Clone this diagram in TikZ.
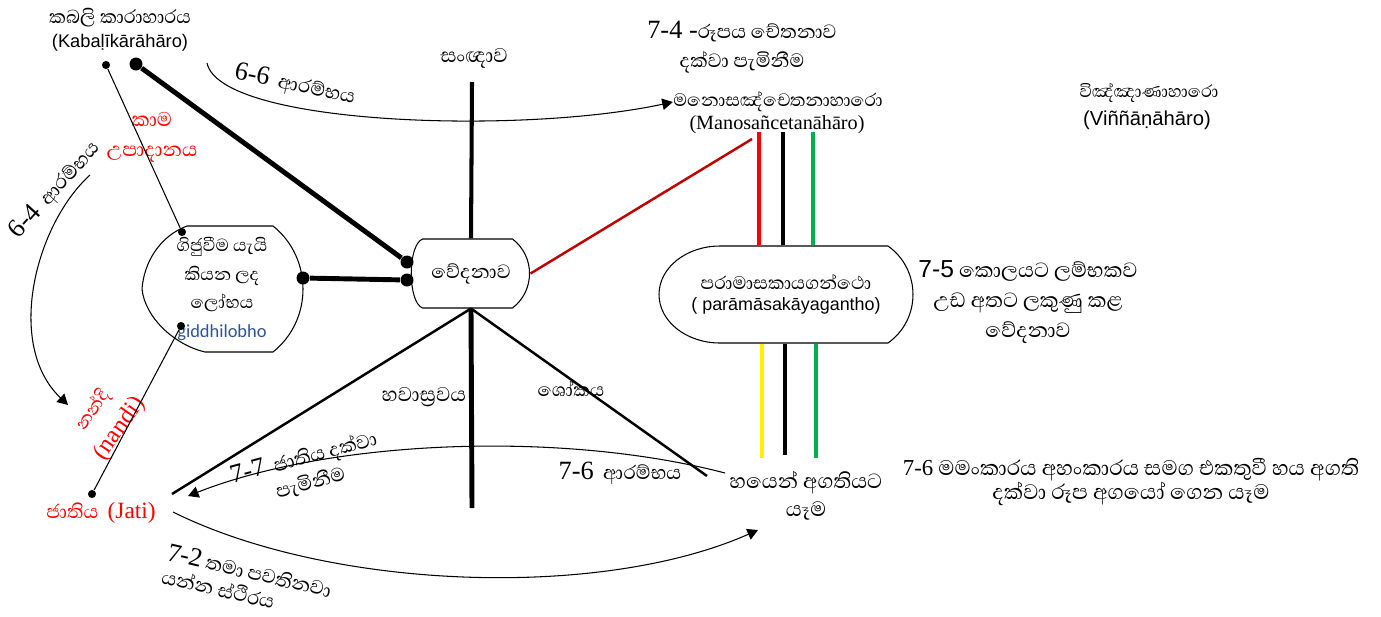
\documentclass[tikz,border=0pt]{standalone}
\usepackage{fontspec}
\setmainfont{Liberation Serif}
\setsansfont{Liberation Sans}
\newfontfamily\sinfont[Script=Sinhala]{Abhaya Libre}
\newfontfamily\calfont{Carlito}
\usetikzlibrary{arrows.meta,calc}
\newcommand{\fs}[2]{\fontsize{#1}{#2}\selectfont}
\definecolor{darkred}{HTML}{C00000}
\definecolor{offgreen}{HTML}{00B050}
\definecolor{offblue}{HTML}{2F5496}

\begin{document}
\begin{tikzpicture}[x=0.02cm,y=-0.02cm,line width=0.6pt,>={Triangle[length=6pt,width=6.5pt]}]
  \tikzstyle{lbl}=[align=center,inner sep=0pt]
  \tikzstyle{bigdot}=[circle,fill=black,minimum size=7.4pt,inner sep=0pt]
  \tikzstyle{smalldot}=[circle,fill=black,minimum size=4.6pt,inner sep=0pt]
  \tikzstyle{heavy}=[line width=2.8pt]
  \tikzstyle{bar}=[line width=2.3pt]
  \useasboundingbox (0,0) rectangle (1381,616);

  \node[lbl,font=\sinfont\fs{13.6}{14}] (kab) at (120,18) {කබලි කාරාහාරය};
  \node[lbl,font=\sffamily\fs{10.4}{12}] (kabtr) at (120,43) {(Kabaḷīkārāhāro)};
  \node[smalldot] (kd1) at (106,65) {};
  \node[bigdot] (kd2) at (136,64) {};
  \node[lbl,red,font=\sinfont\fs{14.4}{17}] (kama) at (152,137) {කාම\\උපාදානය};

  \node[lbl,font=\sinfont\fs{14.5}{14}] (sangna) at (474,58) {සංඥාව};
  \node[lbl,font=\sinfont\fs{14}{16.5}] (t74) at (742,47) {{\rmfamily\fs{15}{16.5}7-4 -}රූපය චේතනාව\\දක්වා පැමිනීම};
  \node[lbl,font=\sinfont\fs{13.1}{13}] (mano) at (778,102) {මනොසඤ්චෙතනාහාරො};
  \node[lbl,font=\rmfamily\fs{11.5}{13}] (manotr) at (777,125) {(Manosañcetanāhāro)};
  \node[lbl,font=\sinfont\fs{12.5}{13}] (vinn) at (1149,93) {විඤ්ඤාණාහාරො};
  \node[lbl,font=\sffamily\fs{11.5}{13}] (vinntr) at (1147,120) {(Viññāṇāhāro)};

  \node[lbl,font=\sinfont\fs{14}{16},rotate=-12] (t66) at (295,85) {{\rmfamily\fs{15}{16}6-6}~~ආරම්භය};
  \node[lbl,font=\sinfont\fs{14}{16},rotate=48] (t64) at (55,190) {{\rmfamily\fs{15}{16}6-4}~~ආරම්භය};

  % lobha
  \node[lbl,font=\sinfont\fs{12.7}{16.2}] (lob) at (222,289) {ගිජුවීම යැයි\\කියන ලද\\ලෝභය\\{\calfont\fs{10.5}{16.2}\color{offblue}giddhilobho}};
  \draw ($(lob.center)+(-35,-63)$) -- ($(lob.center)+(51,-63)$) .. controls ($(lob.center)+(91,-31)$) and ($(lob.center)+(91,31)$) .. ($(lob.center)+(51,63)$) -- ($(lob.center)+(-17,63)$) .. controls ($(lob.center)+(-47,56)$) and ($(lob.center)+(-77,29)$) .. ($(lob.center)+(-80,0)$) .. controls ($(lob.center)+(-78,-27)$) and ($(lob.center)+(-62,-53)$) .. cycle;
  \node[smalldot] (ld1) at (182,232) {};
  \node[smalldot] (ld2) at (181,326) {};
  \node[bigdot] (ld3) at (303,278) {};

  % vedana
  \node[lbl,font=\sinfont\fs{14}{14},minimum width=2.36cm,minimum height=1.38cm] (ved) at (471,273.5) {වේදනාව};
  \draw ($(ved.center)+(-48.5,-34.5)$) -- ($(ved.center)+(41.5,-34.5)$) .. controls ($(ved.center)+(64.2,-17.1)$) and ($(ved.center)+(64.2,17.1)$) .. ($(ved.center)+(41.5,34.5)$) -- ($(ved.center)+(-48.5,34.5)$) .. controls ($(ved.center)+(-63.5,28.5)$) and ($(ved.center)+(-63.5,-28.5)$) .. cycle;
  \node[bigdot] (vd1) at (407,262) {};
  \node[bigdot] (vd2) at (407,280) {};

  % paramasa
  \node[lbl,font=\sinfont\fs{13.2}{12},minimum width=5.08cm,minimum height=1.94cm] (param) at (786,294.5) {පරාමාසකායගන්ථො\\{\sffamily\fs{10.2}{12}( parāmāsakāyagantho)}};
  \draw ($(param.center)+(-66,-48.5)$) -- ($(param.center)+(102,-48.5)$) .. controls ($(param.center)+(135.3,-24.8)$) and ($(param.center)+(135.3,24.8)$) .. ($(param.center)+(102,48.5)$) -- ($(param.center)+(-66,48.5)$) .. controls ($(param.center)+(-99.7,48.5)$) and ($(param.center)+(-127,26.8)$) .. ($(param.center)+(-127,0)$) .. controls ($(param.center)+(-127,-26.8)$) and ($(param.center)+(-99.7,-48.5)$) .. cycle;

  \node[lbl,font=\sinfont\fs{15}{17}] (t75) at (1028,302) {{\sffamily\fs{14}{17}7-5} කොලයට ලම්භකව\\උඩ අතට ලකුණු කළ\\වේදනාව};

  \node[lbl,font=\sinfont\fs{14.5}{13}] (bhava) at (424,397) {හවාස්‍රවය};
  \node[lbl,font=\sinfont\fs{13.4}{13}] (shoka) at (571,389) {ශෝකය};
  \node[lbl,font=\sinfont\fs{14}{16}] (t76a) at (620,473) {{\rmfamily\fs{15}{16}7-6}~~ආරම්භය};
  \node[lbl,font=\sinfont\fs{15}{16}] (bhaya) at (806,496) {හයෙන් අගතියට\\යෑම};
  \node[lbl,font=\sinfont\fs{15.3}{12.3}] (t76b) at (1131,482) {{\rmfamily\fs{13}{12.3}7-6} මමංකාරය අහංකාරය සමග එකතුවී හය අගති\\දක්වා රූප අගයෝ ගෙන යෑම};
  \node[lbl,font=\sinfont\fs{14}{14.8},rotate=15] (t77) at (307,470) {{\rmfamily\fs{15}{14.8}7-7}~~ජාතිය දක්වා\\පැමිනීම};
  \node[lbl,font=\sinfont\fs{14}{13.6},rotate=-13,align=left] (t72) at (247,582) {{\rmfamily\fs{15}{13.6}7-2} තමා පවතිනවා\\යන්න ස්ථිරය};

  \node[lbl,red,font=\sinfont\fs{13.9}{14}] (jati) at (101,513) {ජාතිය~~{\rmfamily\fs{13.3}{14}(Jati)}};
  \node[smalldot] (jd) at (92,494) {};
  \node[lbl,red,font=\sinfont\fs{13}{19},rotate=55] (nandi) at (107,420) {නන්දි\\{\rmfamily\fs{14}{19}(nandi)}};

  \draw (kd1) -- (ld1);
  \draw[heavy] (kd2) -- (vd1);
  \draw[heavy] (ld3) -- (vd2);
  \draw (ld2) -- (jd);

  \coordinate (stop) at (472,82);
  \draw[bar] (stop) -- (ved.north);
  \coordinate (sbot) at (472,508);
  \draw[heavy] (ved.south) -- (sbot);
  \coordinate (jtop) at (172,494);
  \draw[line width=1.4pt] (ved.south) -- (jtop);
  \coordinate (bleft) at (707,476);
  \draw[line width=1.4pt] (ved.south) -- (bleft);
  \coordinate (mred) at (752,139);
  \draw[darkred,line width=1.4pt] (ved.east) -- (mred);

  \coordinate (ar) at (759,132);
  \coordinate (ak) at (783,132);
  \coordinate (ag) at (813,132);
  \draw[bar,red] (ar) -- (ar |- param.north);
  \draw[bar] (ak) -- (ak |- param.north);
  \draw[bar,offgreen] (ag) -- (ag |- param.north);
  \coordinate (by) at (762,458);
  \coordinate (bk) at (785,455);
  \coordinate (bg) at (816,458);
  \draw[bar,yellow] (by |- param.south) -- (by);
  \draw[bar] (bk |- param.south) -- (bk);
  \draw[bar,offgreen] (bg |- param.south) -- (bg);

  \coordinate (s66) at (207,63);
  \draw[->] (s66) .. controls (220,125) and (520,135) .. (mano.west);
  \coordinate (s64) at (90,175);
  \coordinate (e64) at (68,405);
  \draw[->] (s64) .. controls (35,225) and (5,345) .. (e64);
  \coordinate (s77) at (725,473);
  \coordinate (e77) at (188,496);
  \draw[->] (s77) .. controls (560,430) and (330,440) .. (e77);
  \coordinate (s72) at (173,512);
  \coordinate (e72) at (758,530);
  \draw[->] (s72) .. controls (330,590) and (600,600) .. (e72);
\end{tikzpicture}
\end{document}
